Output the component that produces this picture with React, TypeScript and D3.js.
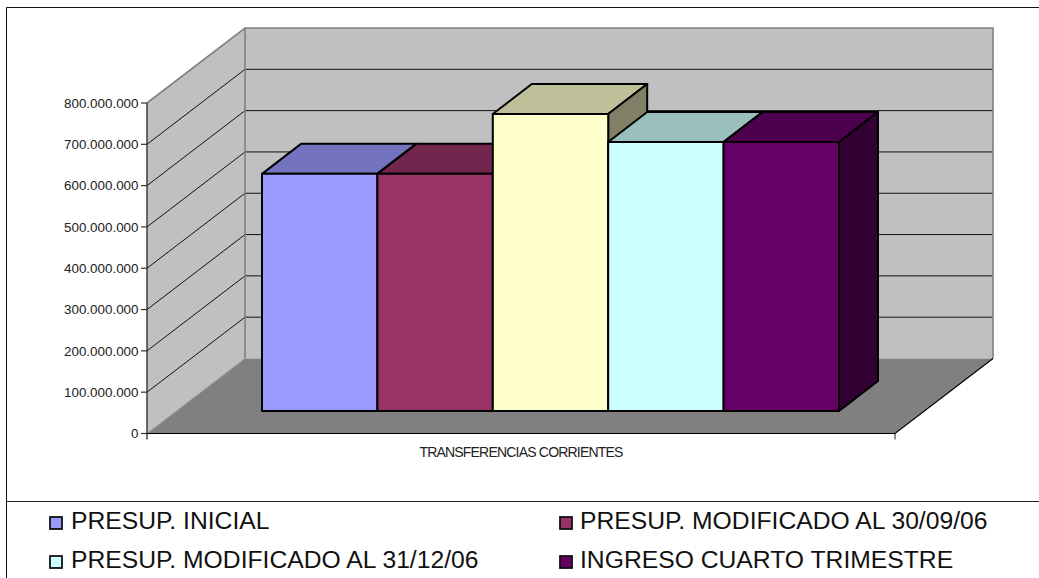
import React from "react";
import * as d3 from "d3";

const category = "TRANSFERENCIAS CORRIENTES";
const tickValues = [0, 100, 200, 300, 400, 500, 600, 700, 800].map((d) => d * 1e6);
const seriesValues = [574e6, 574e6, 719e6, 651e6, 651e6];
const seriesKeys = ["a", "b", "c", "d", "e"];
const frontColors = ["#9999ff", "#993366", "#ffffcc", "#ccffff", "#660066"];
const legendNames = [
  "PRESUP. INICIAL",
  "PRESUP. MODIFICADO AL 30/09/06",
  "PRESUP. MODIFICADO AL 31/12/06",
  "INGRESO CUARTO TRIMESTRE",
];
const legendColors = ["#9999ff", "#993366", "#ccffff", "#660066"];

const W = 1039;
const H = 578;
const FONT = "'Liberation Sans', Arial, sans-serif";

// Oblique projection of the 3D box
const y = d3.scaleLinear().domain([0, 800e6]).range([433.5, 103]);
const floorX = [147, 895];
const depthX = 98;
const depthY = 75;
const barBase = 411;
const barDx = 39;
const barDy = 30;
const x = d3.scaleBand<string>().domain(seriesKeys).range([262, 839]).padding(0);
const hOf = (v: number) => y(0) - y(v);

const fmt = (v: number) => (v === 0 ? "0" : d3.format(",")(v).replace(/,/g, "."));
const pts = (a: number[][]) => a.map((p) => p.join(",")).join(" ");
const shade = (c: string, k: number) => {
  const r = d3.rgb(c);
  return d3.rgb(r.r * k, r.g * k, r.b * k).formatHex();
};

export default function App() {
  const backL = floorX[0] + depthX;
  const backR = floorX[1] + depthX;
  return (
    <svg
      width={W}
      height={H}
      viewBox={`0 0 ${W} ${H}`}
      style={{ position: "absolute", left: 0, top: 0, background: "#fff" }}
      fontFamily={FONT}
    >
      <path d={`M6.5 ${H}V7.5H${W}`} fill="none" stroke="#111" strokeWidth={1} />
      <line x1={6} x2={W} y1={501.5} y2={501.5} stroke="#222" strokeWidth={1} />

      {/* walls */}
      <polygon
        points={pts([[backL, y(800e6) - depthY], [backR, y(800e6) - depthY], [backR, y(0) - depthY], [backL, y(0) - depthY]])}
        fill="#c0c0c0"
      />
      <polygon
        points={pts([[floorX[0], y(800e6)], [backL, y(800e6) - depthY], [backL, y(0) - depthY], [floorX[0], y(0)]])}
        fill="#c0c0c0"
      />
      <polygon
        points={pts([[floorX[0], y(0)], [floorX[1], y(0)], [backR, y(0) - depthY], [backL, y(0) - depthY]])}
        fill="#808080"
      />
      {/* gridlines */}
      {tickValues.slice(1, -1).map((t) => (
        <path
          key={t}
          d={`M${floorX[0]} ${y(t)}L${backL} ${y(t) - depthY}H${backR}`}
          fill="none"
          stroke="#111"
          strokeWidth={1}
        />
      ))}
      {/* wall borders */}
      <path
        d={`M${floorX[0]} ${y(800e6)}L${backL} ${y(800e6) - depthY}H${backR}V${y(0) - depthY}`}
        fill="none"
        stroke="#808080"
        strokeWidth={1.6}
      />
      <path d={`M${backL} ${y(800e6) - depthY}V${y(0) - depthY}`} stroke="#808080" strokeWidth={1.6} />
      <path d={`M${floorX[0]} ${y(0)}L${backL} ${y(0) - depthY}`} stroke="#9a9a9a" strokeWidth={1} />

      {/* bars */}
      {seriesKeys.map((k, i) => {
        const x0 = x(k)!;
        const x1 = x0 + x.bandwidth();
        const top = barBase - hOf(seriesValues[i]);
        const c = frontColors[i];
        return (
          <g key={k} stroke="#000" strokeWidth={2} strokeLinejoin="round">
            <polygon
              points={pts([[x0, top], [x1, top], [x1 + barDx, top - barDy], [x0 + barDx, top - barDy]])}
              fill={shade(c, 0.75)}
            />
            <polygon
              points={pts([[x1, top], [x1 + barDx, top - barDy], [x1 + barDx, barBase - barDy], [x1, barBase]])}
              fill={shade(c, 0.5)}
            />
            <rect x={x0} y={top} width={x1 - x0} height={barBase - top} fill={c} />
          </g>
        );
      })}

      {/* floor front edges & axes */}
      <path d={`M${floorX[0]} ${y(0)}H${floorX[1]}L${backR} ${y(0) - depthY}`} fill="none" stroke="#000" strokeWidth={1.2} />
      <path d={`M${floorX[0]} ${y(800e6)}V${y(0) + 6}`} fill="none" stroke="#333" strokeWidth={1.4} />
      <path d={`M${floorX[1]} ${y(0)}v6`} fill="none" stroke="#222" strokeWidth={1} />
      {tickValues.map((t) => (
        <g key={t}>
          <line x1={floorX[0] - 6} x2={floorX[0]} y1={y(t)} y2={y(t)} stroke="#333" strokeWidth={1.2} />
          <text x={138.5} y={y(t)} dy="0.35em" textAnchor="end" fontSize={13.4} fill="#222">
            {fmt(t)}
          </text>
        </g>
      ))}
      <text x={521} y={457} textAnchor="middle" fontSize={14} letterSpacing={-0.8} fill="#222">
        {category}
      </text>

      {/* legend */}
      {legendNames.map((n, i) => {
        const col = i % 2;
        const row = Math.floor(i / 2);
        const sx = col === 0 ? 50 : 560;
        const by = row === 0 ? 529 : 568;
        return (
          <g key={n}>
            <rect x={sx} y={by - 12} width={12} height={12} fill={legendColors[i]} stroke="#111" strokeWidth={1.8} />
            <text x={col === 0 ? 71 : 580} y={by} fontSize={24.7} fill="#111">
              {n}
            </text>
          </g>
        );
      })}
    </svg>
  );
}
